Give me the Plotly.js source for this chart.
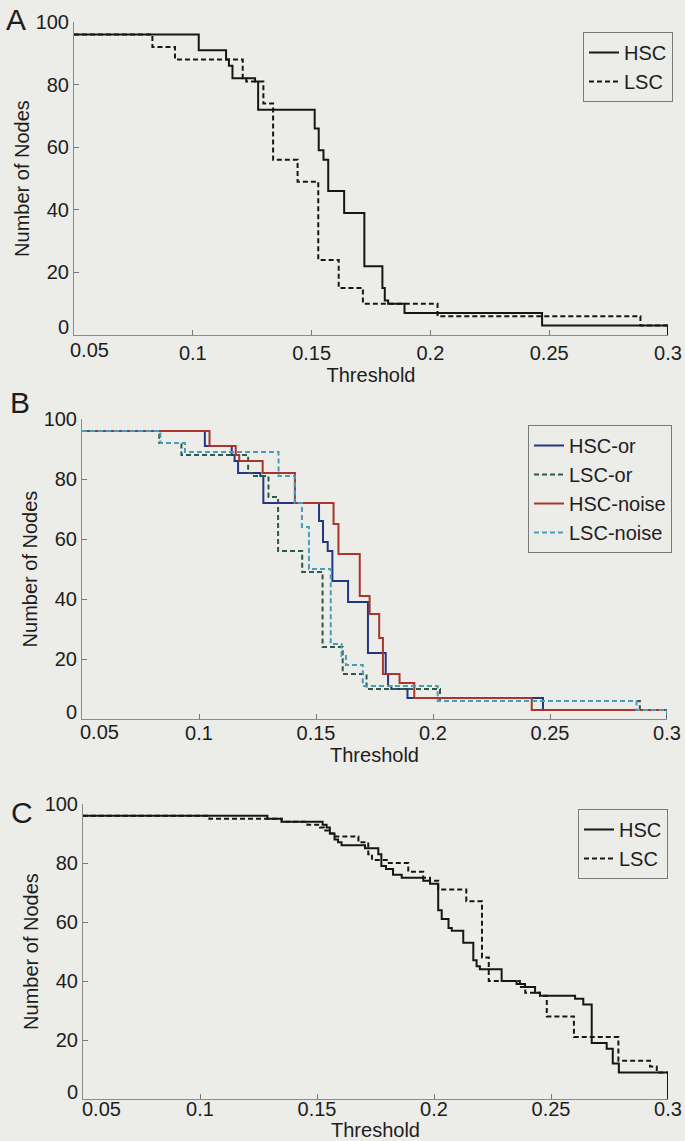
<!DOCTYPE html>
<html>
<head>
<meta charset="utf-8">
<script src="https://cdn.plot.ly/plotly-3.0.1.min.js"></script>
<style>
  html, body { margin: 0; padding: 0; background: #ecece9; }
  #chart { width: 685px; height: 1141px; }
</style>
</head>
<body>
<div id="chart"></div>
<script>
// ---------- DATA (step curves: x where a new level starts, level) ----------
// Panel A and panel B "original" curves
const hscOrX = [0.05, 0.1025, 0.1140, 0.1152, 0.1167, 0.1262, 0.1275, 0.1513, 0.1530, 0.1550, 0.1570, 0.1637, 0.1722, 0.1798, 0.1808, 0.1822, 0.1891, 0.2470, 0.3];
const hscOrY = [96, 91, 88, 86, 82, 81, 72, 66, 59, 56, 46, 39, 22, 15, 11, 10, 7, 3, 0];

const lscOrX = [0.05, 0.0830, 0.0925, 0.1210, 0.1225, 0.1297, 0.1338, 0.1441, 0.1528, 0.1614, 0.1716, 0.2030, 0.2884, 0.3];
const lscOrY = [96, 92, 88, 82, 81, 74, 56, 49, 24, 15, 10, 6, 3, 0];

// Panel B noise curves
const hscNoiseX = [0.05, 0.1045, 0.1157, 0.1172, 0.1272, 0.1410, 0.1575, 0.1596, 0.1687, 0.1729, 0.1770, 0.1786, 0.1857, 0.1920, 0.2422, 0.3];
const hscNoiseY = [96, 91, 88, 86, 82, 72, 65, 55, 41, 35, 27, 15, 12, 7, 3, 0];

const lscNoiseX = [0.05, 0.0835, 0.0940, 0.1340, 0.1409, 0.1440, 0.1470, 0.1563, 0.1609, 0.1628, 0.1700, 0.2020, 0.2870, 0.3];
const lscNoiseY = [96, 92, 89, 81, 72, 64, 50, 25, 21, 18, 11, 6, 3, 0];

// Panel C curves
const hscCX = [0.05, 0.1288, 0.1349, 0.1524, 0.1541, 0.1555, 0.1575, 0.1590, 0.1605, 0.1705, 0.1762, 0.1775, 0.1795, 0.1825, 0.1862, 0.1954, 0.1983, 0.2018, 0.2033, 0.2062, 0.2076, 0.2125, 0.2168, 0.2182, 0.2196, 0.2289, 0.2353, 0.2389, 0.2432, 0.2453, 0.2603, 0.2638, 0.2674, 0.2738, 0.2764, 0.2790, 0.3];
const hscCY = [96, 95, 94, 93, 92, 90, 88, 87, 86, 85, 83, 79, 78, 76, 75, 74, 73, 64, 61, 58, 57, 53, 47, 45, 44, 40, 39, 38, 36, 35, 34, 32, 19, 17, 12, 9, 0];

const lscCX = [0.05, 0.1040, 0.1349, 0.1459, 0.1513, 0.1530, 0.1550, 0.1570, 0.1677, 0.1719, 0.1735, 0.1798, 0.1890, 0.1954, 0.1983, 0.2018, 0.2138, 0.2205, 0.2234, 0.2367, 0.2390, 0.2453, 0.2482, 0.2598, 0.2788, 0.2923, 0.2952, 0.3];
const lscCY = [96, 95, 94, 93, 92, 91, 90, 89, 87, 83, 81, 80, 77, 75, 74, 71, 67, 48, 40, 38, 36, 35, 28, 21, 13, 11, 9, 0];

const xTickVals = [0.05, 0.1, 0.15, 0.2, 0.25, 0.3];
const xTickText = ['0.05', '0.1', '0.15', '0.2', '0.25', '0.3'];
const yTickVals = [0, 20, 40, 60, 80, 100];
const yTickText = ['0', '20', '40', '60', '80', '100'];

const panelLetters = ['A', 'B', 'C'];
const xTitle = 'Threshold';
const yTitle = 'Number of Nodes';

// ---------- STYLE ----------
const FONT = 'Liberation Sans, Arial, Helvetica, sans-serif';
const TXT = '#1d1d1d';
const BG = '#ecece9';
const DASH = '5px,3px';

function step(x, y, name, color, dash, xa, ya, legend) {
  return {
    type: 'scatter', mode: 'lines', x: x, y: y, name: name,
    xaxis: xa, yaxis: ya, legend: legend,
    line: { shape: 'hv', color: color, width: 2, dash: dash },
    hoverinfo: 'skip'
  };
}

const data = [
  step(hscOrX, hscOrY, 'HSC', '#161616', 'solid', 'x', 'y', 'legend'),
  step(lscOrX, lscOrY, 'LSC', '#161616', DASH, 'x', 'y', 'legend'),

  step(hscOrX, hscOrY, 'HSC-or', '#233684', 'solid', 'x2', 'y2', 'legend2'),
  step(lscOrX, lscOrY, 'LSC-or', '#2e584a', DASH, 'x2', 'y2', 'legend2'),
  step(hscNoiseX, hscNoiseY, 'HSC-noise', '#a9352d', 'solid', 'x2', 'y2', 'legend2'),
  step(lscNoiseX, lscNoiseY, 'LSC-noise', '#4a9db8', DASH, 'x2', 'y2', 'legend2'),

  step(hscCX, hscCY, 'HSC', '#161616', 'solid', 'x3', 'y3', 'legend3'),
  step(lscCX, lscCY, 'LSC', '#161616', DASH, 'x3', 'y3', 'legend3')
];

const W = 685, H = 1141;
function xd(l, r) { return [l / W, r / W]; }
function yd(top, bottom) { return [1 - bottom / H, 1 - top / H]; }

// first tick labels (0 and 0.05) are drawn as annotations, nudged like the original
const xTickTextAxis = xTickText.map((t, i) => i === 0 ? '' : t);
const yTickTextAxis = yTickText.map((t, i) => i === 0 ? '' : t);

function xAxis(dom, anchor, labelGap) {
  return {
    domain: dom, anchor: anchor, range: [0.05, 0.3],
    tickmode: 'array', tickvals: xTickVals, ticktext: xTickTextAxis,
    ticks: 'inside', ticklen: 5, tickwidth: 1, tickcolor: '#777',
    ticklabelstandoff: labelGap,
    showline: true, linecolor: '#8a8a8a', linewidth: 1,
    showgrid: false, zeroline: false,
    tickfont: { family: FONT, size: 20, color: TXT },
    title: { text: xTitle, font: { family: FONT, size: 20, color: TXT }, standoff: 0 }
  };
}
function yAxis(dom, anchor) {
  return {
    domain: dom, anchor: anchor, range: [0, 100],
    tickmode: 'array', tickvals: yTickVals, ticktext: yTickTextAxis,
    ticks: 'inside', ticklen: 5, tickwidth: 1, tickcolor: '#777',
    showline: true, linecolor: '#8a8a8a', linewidth: 1,
    showgrid: false, zeroline: false,
    tickfont: { family: FONT, size: 20, color: TXT },
    title: { text: yTitle, font: { family: FONT, size: 20, color: TXT }, standoff: 0 }
  };
}
function legendBox(xRight, yTop) {
  return {
    x: xRight / W, xanchor: 'right', y: 1 - yTop / H, yanchor: 'top',
    bgcolor: 'rgba(0,0,0,0)', bordercolor: '#7a7a7a', borderwidth: 1,
    font: { family: FONT, size: 20, color: TXT },
    itemwidth: 30, tracegroupgap: 0, traceorder: 'normal'
  };
}

const tickFont = { family: FONT, size: 20, color: TXT };
function firstTickLabels(xa, ya, xShift, xLabelDrop, yLift) {
  return [
    { xref: xa, yref: ya, x: xTickVals[0], y: yTickVals[0], text: xTickText[0],
      xanchor: 'center', yanchor: 'top', xshift: xShift, yshift: -xLabelDrop,
      showarrow: false, font: tickFont },
    { xref: xa, yref: ya, x: xTickVals[0], y: yTickVals[0], text: yTickText[0],
      xanchor: 'right', yanchor: 'middle', xshift: -3, yshift: yLift,
      showarrow: false, font: tickFont }
  ];
}

const letterAnn = [
  { text: panelLetters[0], x: 4 / W, y: 1 - 19 / H },
  { text: panelLetters[1], x: 8 / W, y: 1 - 402 / H },
  { text: panelLetters[2], x: 9 / W, y: 1 - 812 / H }
].map(a => Object.assign(a, {
  xref: 'paper', yref: 'paper', xanchor: 'left', yanchor: 'middle',
  showarrow: false, font: { family: FONT, size: 30, color: TXT }
}));

const layout = {
  width: W, height: H,
  margin: { l: 0, r: 0, t: 0, b: 0 },
  paper_bgcolor: BG, plot_bgcolor: 'rgba(0,0,0,0)',
  font: { family: FONT, color: TXT },
  showlegend: true,
  xaxis: xAxis(xd(74, 668), 'y', 0),
  yaxis: yAxis(yd(22, 335), 'x'),
  xaxis2: xAxis(xd(82, 667), 'y2', -4),
  yaxis2: yAxis(yd(419, 719), 'x2'),
  xaxis3: xAxis(xd(83, 668), 'y3', -8),
  yaxis3: yAxis(yd(804, 1099), 'x3'),
  legend: legendBox(673, 32),
  legend2: legendBox(672, 425),
  legend3: legendBox(668, 809),
  annotations: letterAnn
    .concat(firstTickLabels('x', 'y', 15, 2, 8))
    .concat(firstTickLabels('x2', 'y2', 17, 0, 7))
    .concat(firstTickLabels('x3', 'y3', 18, -3, 7))
};

Plotly.newPlot('chart', data, layout, { staticPlot: true, displayModeBar: false });
</script>
</body>
</html>
